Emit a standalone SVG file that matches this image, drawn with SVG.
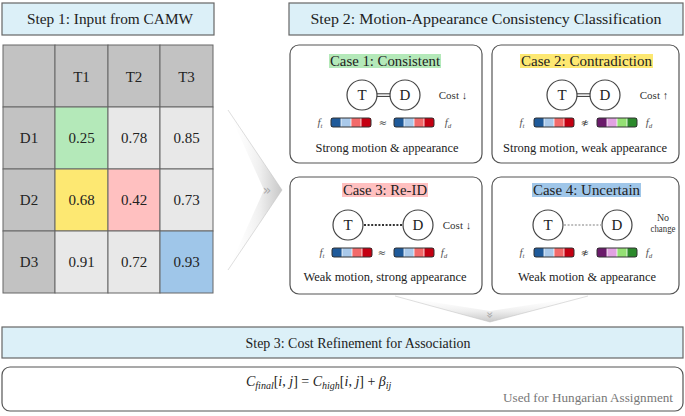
<svg xmlns="http://www.w3.org/2000/svg" width="685" height="416" viewBox="0 0 685 416" font-family="'Liberation Serif', 'DejaVu Serif', serif">
<defs>
<style>
text, tspan{font-family:"Liberation Serif","DejaVu Serif",serif !important}
text.sym, text.glyph{font-family:"DejaVu Sans","Liberation Sans",sans-serif !important}
.hdr{fill:#dcf0f8;stroke:#666;stroke-width:1.2}
.ht{font-size:15px;fill:#222;text-anchor:middle}
.cell{stroke:#666;stroke-width:1}
.g{fill:#c2c2c2}.w{fill:#e8e8e8}
.ct{font-size:15px;fill:#222;text-anchor:middle}
.box{fill:#fff;stroke:#555;stroke-width:1.2}
.cap{font-size:14px;fill:#222;text-anchor:middle}
.node{fill:#fff;stroke:#444;stroke-width:1.2}
.nt{font-size:15px;fill:#222;text-anchor:middle}
.sm{font-size:11px;fill:#333;text-anchor:middle}
.fl{font-size:11px;font-style:italic;fill:#555;text-anchor:middle}
.sub{font-size:12px;fill:#222;text-anchor:middle}
.sym{font-size:10px;fill:#444;text-anchor:middle}
.sep{stroke:#fff;stroke-width:0.8}
.bo{fill:none;stroke:#333;stroke-width:1}
</style>
<linearGradient id="chevR" x1="0" y1="0" x2="1" y2="0">
<stop offset="0" stop-color="#ffffff" stop-opacity="0"/>
<stop offset="0.6" stop-color="#eeeeee"/>
<stop offset="1" stop-color="#c8c8c8"/>
</linearGradient>
<linearGradient id="chevD" x1="0" y1="0" x2="0" y2="1">
<stop offset="0" stop-color="#ffffff" stop-opacity="0"/>
<stop offset="0.6" stop-color="#ededed"/>
<stop offset="1" stop-color="#c8c8c8"/>
</linearGradient>
<g id="barA">
<rect x="0" y="0" width="10" height="9" fill="#1f5a9a"/>
<rect x="10" y="0" width="10" height="9" fill="#a9c9ea"/>
<rect x="20" y="0" width="10" height="9" fill="#f26a6a"/>
<rect x="30" y="0" width="10" height="9" fill="#c40012"/>
<line class="sep" x1="10" y1="0" x2="10" y2="9"/><line class="sep" x1="20" y1="0" x2="20" y2="9"/><line class="sep" x1="30" y1="0" x2="30" y2="9"/>
<rect class="bo" x="0" y="0" width="40" height="9" rx="2"/>
</g>
<g id="barB">
<rect x="0" y="0" width="10" height="9" fill="#6a1a6a"/>
<rect x="10" y="0" width="10" height="9" fill="#e2a2e2"/>
<rect x="20" y="0" width="10" height="9" fill="#94e074"/>
<rect x="30" y="0" width="10" height="9" fill="#2c8a2c"/>
<line class="sep" x1="10" y1="0" x2="10" y2="9"/><line class="sep" x1="20" y1="0" x2="20" y2="9"/><line class="sep" x1="30" y1="0" x2="30" y2="9"/>
<rect class="bo" x="0" y="0" width="40" height="9" rx="2"/>
</g>
</defs>
<rect width="685" height="416" fill="#fff"/>

<g id="step1">
<rect class="hdr" x="2" y="3" width="212" height="32"/>
<text class="ht" x="110" y="24" textLength="166" lengthAdjust="spacingAndGlyphs">Step 1: Input from CAMW</text>
</g>

<g id="table">
<rect class="cell g" x="3" y="45" width="52" height="62"/>
<rect class="cell g" x="55" y="45" width="53" height="62"/>
<rect class="cell g" x="108" y="45" width="52" height="62"/>
<rect class="cell g" x="160" y="45" width="53" height="62"/>
<rect class="cell g" x="3" y="107" width="52" height="62"/>
<rect class="cell" fill="#b4e9b9" x="55" y="107" width="53" height="62"/>
<rect class="cell w" x="108" y="107" width="52" height="62"/>
<rect class="cell w" x="160" y="107" width="53" height="62"/>
<rect class="cell g" x="3" y="169" width="52" height="62"/>
<rect class="cell" fill="#fde872" x="55" y="169" width="53" height="62"/>
<rect class="cell" fill="#ffc0c0" x="108" y="169" width="52" height="62"/>
<rect class="cell w" x="160" y="169" width="53" height="62"/>
<rect class="cell g" x="3" y="231" width="52" height="62"/>
<rect class="cell w" x="55" y="231" width="53" height="62"/>
<rect class="cell w" x="108" y="231" width="52" height="62"/>
<rect class="cell" fill="#9fc6e9" x="160" y="231" width="53" height="62"/>
<text class="ct" x="81.5" y="82">T1</text>
<text class="ct" x="134" y="82">T2</text>
<text class="ct" x="186.5" y="82">T3</text>
<text class="ct" x="29" y="143">D1</text>
<text class="ct" x="29" y="205">D2</text>
<text class="ct" x="29" y="267">D3</text>
<text class="ct" x="81.5" y="143">0.25</text>
<text class="ct" x="134" y="143">0.78</text>
<text class="ct" x="186.5" y="143">0.85</text>
<text class="ct" x="81.5" y="205">0.68</text>
<text class="ct" x="134" y="205">0.42</text>
<text class="ct" x="186.5" y="205">0.73</text>
<text class="ct" x="81.5" y="267">0.91</text>
<text class="ct" x="134" y="267">0.72</text>
<text class="ct" x="186.5" y="267">0.93</text>
</g>

<g id="step2">
<rect class="hdr" x="289" y="3" width="394" height="32"/>
<text class="ht" x="486" y="24" textLength="351" lengthAdjust="spacingAndGlyphs">Step 2: Motion-Appearance Consistency Classification</text>
</g>

<g id="case1">
<rect class="box" x="290" y="45" width="192" height="118" rx="9"/>
<rect x="329" y="54" width="112" height="14" fill="#b4e9b9"/>
<text class="cap" x="385" y="66" textLength="110" lengthAdjust="spacingAndGlyphs">Case 1: Consistent</text>
<circle class="node" cx="362" cy="95" r="15"/>
<text class="nt" x="362" y="100">T</text>
<circle class="node" cx="405" cy="95" r="15"/>
<text class="nt" x="405" y="100">D</text>
<text class="sm" x="453" y="99">Cost ↓</text>
<text class="fl" x="320" y="126">f<tspan font-size="7" dy="1.5">t</tspan></text>
<use href="#barA" x="331" y="118"/>
<text class="sym" x="383" y="126">≈</text>
<use href="#barA" x="394" y="118"/>
<text class="fl" x="448" y="126">f<tspan font-size="7" dy="1.5">d</tspan></text>
<text class="sub" x="387" y="152" textLength="143" lengthAdjust="spacingAndGlyphs">Strong motion &amp; appearance</text>
</g>

<g id="case2">
<rect class="box" x="492" y="45" width="187" height="118" rx="9"/>
<rect x="520" y="54" width="133" height="14" fill="#fde872"/>
<text class="cap" x="586.5" y="66" textLength="131" lengthAdjust="spacingAndGlyphs">Case 2: Contradiction</text>
<circle class="node" cx="562" cy="95" r="15"/>
<text class="nt" x="562" y="100">T</text>
<circle class="node" cx="605" cy="95" r="15"/>
<text class="nt" x="605" y="100">D</text>
<text class="sm" x="654" y="99">Cost ↑</text>
<text class="fl" x="522" y="126">f<tspan font-size="7" dy="1.5">t</tspan></text>
<use href="#barA" x="534" y="118"/>
<text class="sym" x="585" y="126">≉</text>
<use href="#barB" x="597" y="118"/>
<text class="fl" x="649" y="126">f<tspan font-size="7" dy="1.5">d</tspan></text>
<text class="sub" x="585" y="152" textLength="164" lengthAdjust="spacingAndGlyphs">Strong motion, weak appearance</text>
</g>

<g id="case3">
<rect class="box" x="290" y="177" width="192" height="117" rx="9"/>
<rect x="342" y="183" width="86" height="14" fill="#ffc0c0"/>
<text class="cap" x="385" y="195" textLength="84" lengthAdjust="spacingAndGlyphs">Case 3: Re-ID</text>
<circle class="node" cx="348" cy="225" r="15"/>
<text class="nt" x="348" y="230">T</text>
<circle class="node" cx="418" cy="225" r="15"/>
<text class="nt" x="418" y="230">D</text>
<text class="sm" x="457" y="229">Cost ↓</text>
<text class="fl" x="322" y="256">f<tspan font-size="7" dy="1.5">t</tspan></text>
<use href="#barA" x="332" y="248"/>
<text class="sym" x="382" y="256">≈</text>
<use href="#barA" x="394" y="248"/>
<text class="fl" x="444" y="256">f<tspan font-size="7" dy="1.5">d</tspan></text>
<text class="sub" x="385" y="281" textLength="163" lengthAdjust="spacingAndGlyphs">Weak motion, strong appearance</text>
</g>

<g id="case4">
<rect class="box" x="492" y="177" width="187" height="117" rx="9"/>
<rect x="532" y="183" width="109" height="14" fill="#9fc6e9"/>
<text class="cap" x="586.5" y="195" textLength="107" lengthAdjust="spacingAndGlyphs">Case 4: Uncertain</text>
<circle class="node" cx="548" cy="225" r="15"/>
<text class="nt" x="548" y="230">T</text>
<circle class="node" cx="617" cy="225" r="15"/>
<text class="nt" x="617" y="230">D</text>
<text class="sm" x="663" y="221" font-size="10" style="font-size:10px">No</text>
<text class="sm" x="663" y="232" style="font-size:10px" textLength="25" lengthAdjust="spacingAndGlyphs">change</text>
<text class="fl" x="522" y="256">f<tspan font-size="7" dy="1.5">t</tspan></text>
<use href="#barA" x="534" y="248"/>
<text class="sym" x="585" y="256">≉</text>
<use href="#barB" x="597" y="248"/>
<text class="fl" x="649" y="256">f<tspan font-size="7" dy="1.5">d</tspan></text>
<text class="sub" x="587" y="281" textLength="138" lengthAdjust="spacingAndGlyphs">Weak motion &amp; appearance</text>
</g>

<g id="step3">
<rect class="hdr" x="2" y="327" width="681" height="31"/>
<text class="ht" x="358" y="348" textLength="225" lengthAdjust="spacingAndGlyphs">Step 3: Cost Refinement for Association</text>
</g>

<g id="formula">
<rect class="box" x="2" y="367" width="681" height="44" rx="8"/>
<text x="246" y="386" font-size="14" font-style="italic" fill="#222">C<tspan font-size="10" dy="3">final</tspan><tspan dy="-3" font-style="normal">[</tspan>i<tspan font-style="normal">, </tspan>j<tspan font-style="normal">] = </tspan>C<tspan font-size="10" dy="3">high</tspan><tspan dy="-3" font-style="normal">[</tspan>i<tspan font-style="normal">, </tspan>j<tspan font-style="normal">] + </tspan>β<tspan font-size="10" dy="3">ij</tspan></text>
<text x="673" y="402" font-size="12" fill="#777" text-anchor="end" textLength="170" lengthAdjust="spacingAndGlyphs">Used for Hungarian Assignment</text>
</g>

<g id="connectors">
<polygon points="228,110 282,190 228,270 264,190" fill="url(#chevR)"/>
<polyline points="228,110 282,190 228,270" fill="none" stroke="#c4c4c4" stroke-width="0.8" stroke-opacity="0.7"/>
<text class="glyph" x="267" y="195" font-size="14" fill="#aaa" text-anchor="middle">»</text>
<polygon points="395,296 490,322 588,296 490,311" fill="url(#chevD)"/>
<polyline points="395,296 490,322 588,296" fill="none" stroke="#c4c4c4" stroke-width="0.8" stroke-opacity="0.7"/>
<text class="glyph" x="490" y="319" font-size="12" fill="#aaa" text-anchor="middle" transform="rotate(90 490 315)">»</text>
<line x1="377" y1="93.8" x2="390" y2="93.8" stroke="#333" stroke-width="1"/>
<line x1="377" y1="96.4" x2="390" y2="96.4" stroke="#333" stroke-width="1"/>
<line x1="577" y1="93.8" x2="590" y2="93.8" stroke="#333" stroke-width="1"/>
<line x1="577" y1="96.4" x2="590" y2="96.4" stroke="#333" stroke-width="1"/>
<line x1="364" y1="225" x2="402" y2="225" stroke="#333" stroke-width="2" stroke-dasharray="2,1.6"/>
<line x1="564" y1="225" x2="602" y2="225" stroke="#aaa" stroke-width="1.5" stroke-dasharray="2,1.6"/>
</g>
</svg>
